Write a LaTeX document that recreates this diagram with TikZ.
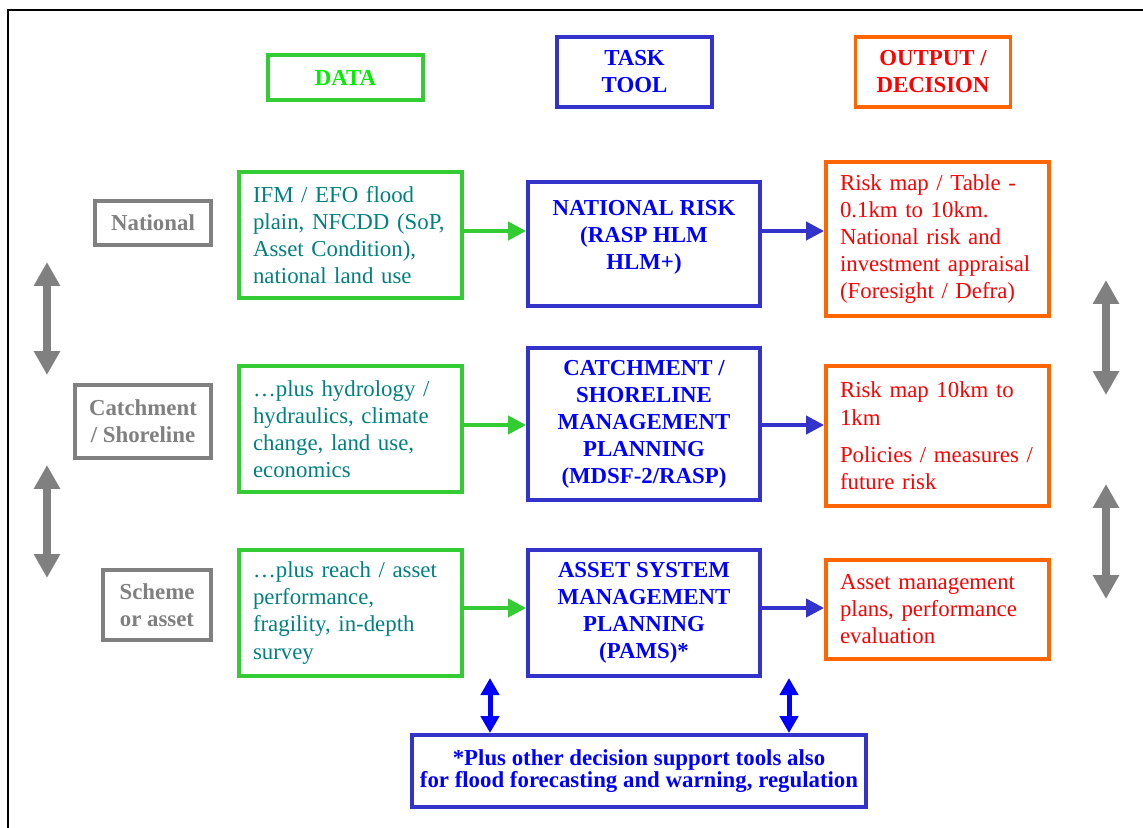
\documentclass[tikz,border=0pt]{standalone}
\usepackage{fontspec}
\setmainfont{Liberation Serif}
\usetikzlibrary{arrows.meta,positioning}
\definecolor{datagreen}{HTML}{33CC33}
\definecolor{headgreen}{HTML}{00EE00}
\definecolor{datatext}{HTML}{008080}
\definecolor{taskblue}{HTML}{3333CC}
\definecolor{outorange}{HTML}{FF6600}
\definecolor{outred}{HTML}{FF0000}
\definecolor{levelgrey}{HTML}{808080}
\definecolor{noteblue}{HTML}{0000FF}

\tikzset{
  box/.style={draw, line width=2.2pt, inner sep=0pt, font=\fontsize{13}{15.4}\selectfont},
  headbox/.style={box, align=center, font=\fontsize{13}{15.4}\selectfont\bfseries, minimum width=3.1cm},
  levelbox/.style={box, draw=levelgrey, text=levelgrey, align=center, font=\fontsize{13}{15.4}\selectfont\bfseries},
  databox/.style={box, draw=datagreen, text=datatext, text width=3.9cm, inner xsep=0.28cm, align=left, minimum width=4.46cm, minimum height=2.52cm},
  taskbox/.style={box, draw=taskblue, text=noteblue, align=center, font=\fontsize{13}{15.4}\selectfont\bfseries, minimum width=4.64cm},
  outbox/.style={box, draw=outorange, text=outred, text width=3.9cm, inner xsep=0.28cm, align=left, minimum width=4.46cm},
  flowarrow/.style={line width=0.08cm, -{Triangle[length=0.36cm, width=0.36cm]}},
  levelarrow/.style={levelgrey, line width=0.16cm, {Triangle[length=0.48cm, width=0.5cm]}-{Triangle[length=0.48cm, width=0.5cm]}},
  notearrow/.style={noteblue, line width=0.1cm, {Triangle[length=0.34cm, width=0.36cm]}-{Triangle[length=0.34cm, width=0.36cm]}}
}

\begin{document}
\begin{tikzpicture}[x=0.02cm, y=-0.02cm]
  \useasboundingbox (0,0) rectangle (1143,828);
  \draw[line width=0.8pt] (1143,10) -| (8,828);

  % column headings
  \node[headbox, draw=datagreen, text=headgreen, minimum height=0.9cm] (hdata) at (345.5,77.5) {DATA};
  \node[headbox, draw=taskblue, text=noteblue, minimum height=1.4cm] (htask) at (634.5,72) {TASK\\TOOL};
  \node[headbox, draw=outorange, text=outred, minimum height=1.4cm] (hout) at (933,72) {OUTPUT /\\DECISION};

  % levels
  \node[levelbox, minimum width=2.32cm, minimum height=0.88cm] (lnat) at (153,223) {National};
  \node[levelbox, minimum width=2.72cm, minimum height=1.46cm] (lcat) at (143,421.5) {Catchment\\/ Shoreline};
  \node[levelbox, minimum width=2.16cm, minimum height=1.4cm] (lsch) at (157,605) {Scheme\\or asset};

  % data
  \node[databox] (d1) at (350.5,235) {IFM / EFO flood\\plain, NFCDD (SoP,\\Asset Condition),\\national land use};
  \node[databox] (d2) at (350.5,429) {…plus hydrology /\\hydraulics, climate\\change, land use,\\economics};
  \node[databox] (d3) at (350.5,613) {…plus reach / asset\\performance,\\fragility, in-depth\\survey};

  % task tools
  \node[taskbox, minimum height=2.48cm] (t1) at (644,244) {NATIONAL RISK\\(RASP HLM\\HLM+)\\[-5pt]\mbox{}};
  \node[taskbox, minimum height=3.04cm] (t2) at (644,424) {CATCHMENT /\\SHORELINE\\MANAGEMENT\\PLANNING\\(MDSF-2/RASP)};
  \node[taskbox, minimum height=2.52cm] (t3) at (644,613) {ASSET SYSTEM\\MANAGEMENT\\PLANNING\\(PAMS)*};

  % outputs
  \node[outbox, minimum height=3.08cm] (o1) at (937.5,239) {Risk map / Table -\\0.1km to 10km.\\National risk and\\investment appraisal\\(Foresight / Defra)};
  \node[outbox, minimum height=2.8cm] (o2) at (937.5,436) {Risk map 10km to\\1km\\[6pt]Policies / measures /\\future risk};
  \node[outbox, minimum height=1.98cm] (o3) at (937.5,609.5) {Asset management\\plans, performance\\evaluation};

  % note
  \node[box, draw=taskblue, text=noteblue, align=center, font=\fontsize{13}{12.5}\selectfont\bfseries, minimum width=9.08cm, minimum height=1.44cm] (note) at (639,771) {*Plus other decision support tools also\\for flood forecasting and warning, regulation};

  % flows
  \foreach \row/\yy in {1/231, 2/425, 3/608} {
    \draw[flowarrow, datagreen] (d\row.east |- 0,\yy) -- (t\row.west |- 0,\yy);
    \draw[flowarrow, taskblue] (t\row.east |- 0,\yy) -- (o\row.west |- 0,\yy);
  }

  % level arrows
  \draw[levelarrow] (47,262) -- (47,375);
  \draw[levelarrow] (47,465) -- (47,578);
  \draw[levelarrow] (1106,280) -- (1106,395);
  \draw[levelarrow] (1106,484) -- (1106,599);

  \draw[notearrow] (note.north -| 490,0) -- (490,678);
  \draw[notearrow] (note.north -| 789,0) -- (789,678);
\end{tikzpicture}
\end{document}
